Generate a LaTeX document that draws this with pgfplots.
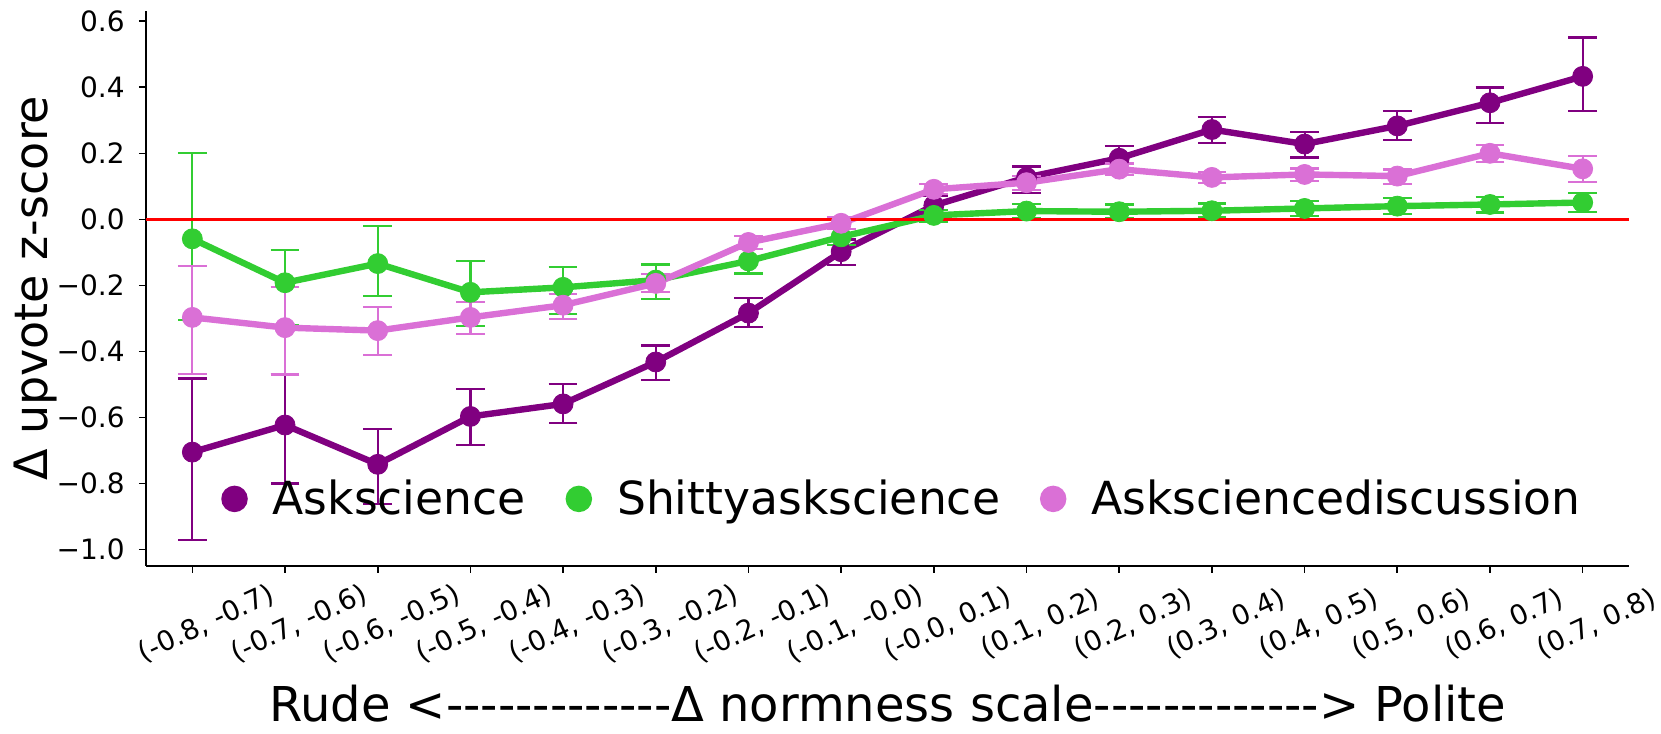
\documentclass[border=0pt]{standalone}
\usepackage{fontspec}
\setmainfont{DejaVu Sans}
\usepackage{pgfplots}
\usepackage{pgfplotstable}
\pgfplotsset{compat=1.18}
\definecolor{cA}{HTML}{800080}
\definecolor{cB}{HTML}{32CD32}
\definecolor{cC}{HTML}{DA70D6}
\newcommand\tickfont{\fontsize{14}{17}\selectfont}
\newcommand\xtickfont{\fontsize{13.8}{17}\selectfont}
\newcommand\labelfont{\fontsize{24}{28}\selectfont}
\newcommand\ylabelfont{\fontsize{23}{27}\selectfont}
\newcommand\legfont{\fontsize{22.8}{27}\selectfont}
\newcommand\dashes{-{}-{}-{}-{}-{}-{}-{}-{}-{}-{}-{}-{}-}

\pgfplotstableread{
x y lo hi
0 -0.705 -0.970 -0.482
1 -0.623 -0.800 -0.470
2 -0.742 -0.861 -0.636
3 -0.597 -0.684 -0.514
4 -0.559 -0.618 -0.499
5 -0.432 -0.486 -0.382
6 -0.284 -0.326 -0.238
7 -0.098 -0.139 -0.061
8 0.042 0.012 0.072
9 0.127 0.080 0.160
10 0.185 0.149 0.222
11 0.272 0.230 0.309
12 0.228 0.187 0.265
13 0.283 0.240 0.329
14 0.353 0.292 0.399
15 0.433 0.327 0.551
}\dataA

\pgfplotstableread{
x y lo hi
0 -0.059 -0.304 0.200
1 -0.192 -0.319 -0.093
2 -0.134 -0.233 -0.020
3 -0.221 -0.324 -0.127
4 -0.206 -0.287 -0.144
5 -0.184 -0.242 -0.137
6 -0.126 -0.164 -0.090
7 -0.053 -0.078 -0.030
8 0.012 -0.008 0.028
9 0.025 0.003 0.046
10 0.023 0.003 0.045
11 0.026 0.006 0.048
12 0.033 0.011 0.055
13 0.040 0.015 0.064
14 0.045 0.021 0.067
15 0.051 0.022 0.080
}\dataB

\pgfplotstableread{
x y lo hi
0 -0.297 -0.468 -0.142
1 -0.328 -0.470 -0.205
2 -0.337 -0.412 -0.266
3 -0.297 -0.347 -0.251
4 -0.260 -0.302 -0.226
5 -0.194 -0.220 -0.166
6 -0.070 -0.090 -0.051
7 -0.012 -0.030 0.006
8 0.091 0.076 0.106
9 0.111 0.088 0.131
10 0.152 0.134 0.169
11 0.127 0.109 0.144
12 0.136 0.116 0.154
13 0.131 0.107 0.151
14 0.200 0.174 0.225
15 0.153 0.113 0.192
}\dataC

\begin{document}
\begin{tikzpicture}
\begin{axis}[
  name=ax,
  scale only axis, width=741.5pt, height=277.35pt,
  xmin=-0.5, xmax=15.5, ymin=-1.049, ymax=0.631,
  axis x line*=bottom, axis y line*=left,
  axis line style={line width=0.8pt, black},
  tick align=outside, major tick length=3.5pt,
  tick style={line width=0.8pt, black},
  xtick={0,1,2,3,4,5,6,7,8,9,10,11,12,13,14,15},
  xticklabels={{(-0.8, -0.7)},{(-0.7, -0.6)},{(-0.6, -0.5)},{(-0.5, -0.4)},{(-0.4, -0.3)},{(-0.3, -0.2)},{(-0.2, -0.1)},{(-0.1, -0.0)},{(-0.0, 0.1)},{(0.1, 0.2)},{(0.2, 0.3)},{(0.3, 0.4)},{(0.4, 0.5)},{(0.5, 0.6)},{(0.6, 0.7)},{(0.7, 0.8)}},
  ytick={-1.0,-0.8,-0.6,-0.4,-0.2,0,0.2,0.4,0.6},
  yticklabels={−1.0,−0.8,−0.6,−0.4,−0.2,0.0,0.2,0.4,0.6},
  xticklabel style={font=\xtickfont, rotate=25, anchor=center, inner sep=0pt, xshift=-4.4pt, yshift=-26.1pt},
  yticklabel style={font=\tickfont, anchor=east, inner sep=0pt, xshift=-7pt},
  every axis y label/.style={at={(axis description cs:0,0.5)}, rotate=90, anchor=south, inner sep=0pt, yshift=44.5pt, font=\ylabelfont},
  every axis x label/.style={at={(axis description cs:0.5,0)}, anchor=base, inner sep=0pt, yshift=-78pt, font=\labelfont},
  ylabel={Δ upvote z-score},
  xlabel={Rude <\dashes Δ normness scale\dashes> Polite},
  legend columns=3,
  legend style={at={(axis description cs:0.5,0)}, anchor=center, xshift=6.75pt, yshift=33.4pt, draw=none, fill=none, font=\legfont, nodes={inner sep=0pt}, column sep=12.5pt, /tikz/every even column/.append style={column sep=20pt}},
  legend image code/.code={\fill[#1] (0pt,0pt) circle (5pt);},
  every axis plot/.append style={line width=3.2pt, mark=*, mark size=5pt, mark options={solid, line width=0.4pt}},
]
\addplot[color=cA, error bars/.cd, y dir=both, y explicit, error bar style={line width=1.1pt, solid}, error mark options={line width=1.1pt, mark size=7.2pt, rotate=90}]
  table[x=x, y=y, y error plus expr=\thisrow{hi}-\thisrow{y}, y error minus expr=\thisrow{y}-\thisrow{lo}] {\dataA};
\addlegendentry{Askscience}
\addplot[color=cB, error bars/.cd, y dir=both, y explicit, error bar style={line width=1.1pt, solid}, error mark options={line width=1.1pt, mark size=7.2pt, rotate=90}]
  table[x=x, y=y, y error plus expr=\thisrow{hi}-\thisrow{y}, y error minus expr=\thisrow{y}-\thisrow{lo}] {\dataB};
\addlegendentry{Shittyaskscience}
\addplot[color=cC, error bars/.cd, y dir=both, y explicit, error bar style={line width=1.1pt, solid}, error mark options={line width=1.1pt, mark size=7.2pt, rotate=90}]
  table[x=x, y=y, y error plus expr=\thisrow{hi}-\thisrow{y}, y error minus expr=\thisrow{y}-\thisrow{lo}] {\dataC};
\addlegendentry{Asksciencediscussion}
\addplot[red, line width=1.7pt, mark=none, forget plot] coordinates {(-0.5,0) (15.5,0)};
\end{axis}
\pgfresetboundingbox
\path[use as bounding box] (ax.south west) ++(-73pt,-84.15pt) rectangle ++(830.5pt,367pt);
\end{tikzpicture}
\end{document}
